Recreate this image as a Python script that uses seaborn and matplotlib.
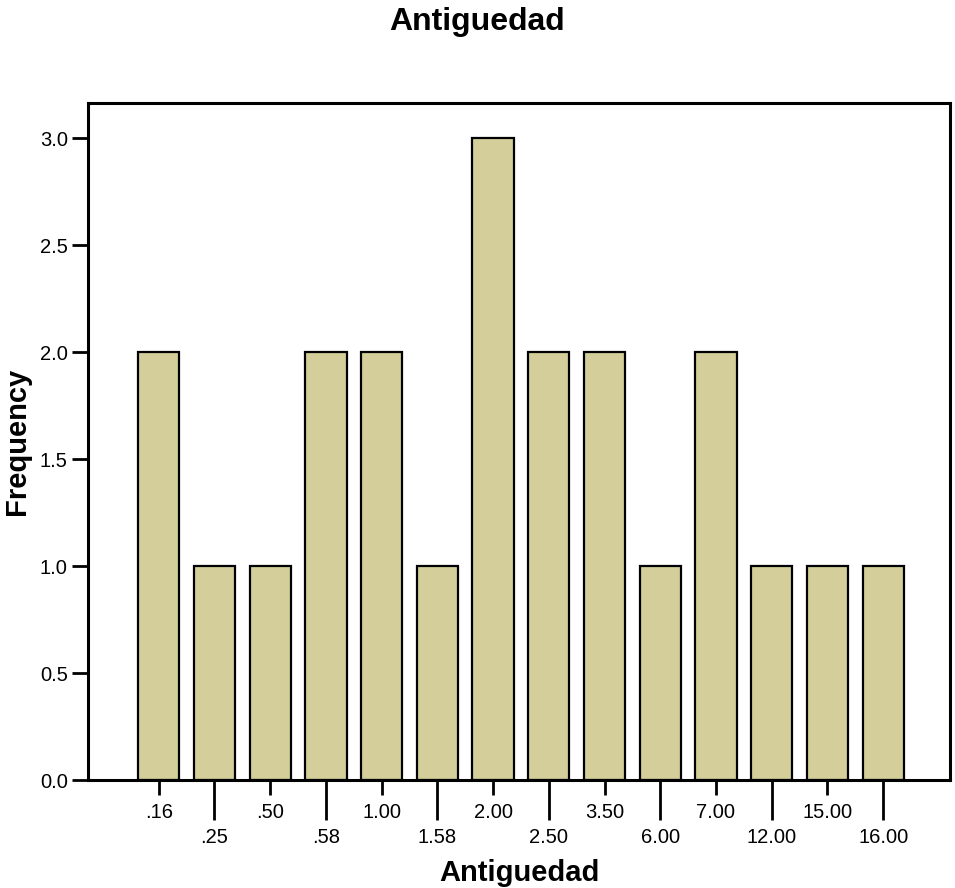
import numpy as np
import pandas as pd
import matplotlib.pyplot as plt
import seaborn as sns
from matplotlib.ticker import FixedLocator, FixedFormatter

# data
categories = [".16", ".25", ".50", ".58", "1.00", "1.58", "2.00",
              "2.50", "3.50", "6.00", "7.00", "12.00", "15.00", "16.00"]
counts = [2, 1, 1, 2, 2, 1, 3, 2, 2, 1, 2, 1, 1, 1]

df = pd.DataFrame({"Antiguedad": categories, "Frequency": counts})

sns.set_style("white")
plt.rcParams["font.family"] = ["Liberation Sans", "DejaVu Sans"]
plt.rcParams["text.color"] = "black"
plt.rcParams["axes.labelcolor"] = "black"
plt.rcParams["xtick.color"] = "black"
plt.rcParams["ytick.color"] = "black"

fig = plt.figure(figsize=(9.55, 8.88), dpi=100)
ax = fig.add_axes([0.0921, 0.1216, 0.9027, 0.7624])

sns.barplot(data=df, x="Antiguedad", y="Frequency", order=categories,
            color="#D4CF9A", saturation=1, width=0.74,
            edgecolor="black", linewidth=1.6, ax=ax)

ax.set_xlim(-1.27, 14.2)
ax.set_ylim(0, 3.164)
yt = np.arange(0, 3.01, 0.5)
ax.set_yticks(yt)
ax.set_yticklabels([f"{v:.1f}" for v in yt], fontsize=14.5)
ax.tick_params(axis="y", direction="out", length=11.5, width=2, left=True, pad=3)

# staggered x labels: even ones short ticks, odd ones long ticks
pos = np.arange(len(categories))
ax.xaxis.set_major_locator(FixedLocator(pos[::2]))
ax.xaxis.set_major_formatter(FixedFormatter(categories[::2]))
ax.xaxis.set_minor_locator(FixedLocator(pos[1::2]))
ax.xaxis.set_minor_formatter(FixedFormatter(categories[1::2]))
ax.tick_params(axis="x", which="major", direction="out", length=10.8, width=2,
               bottom=True, labelsize=14.5, pad=5.5)
ax.tick_params(axis="x", which="minor", direction="out", length=28.8, width=2,
               bottom=True, labelsize=14.5, pad=5.5)

for s in ax.spines.values():
    s.set_visible(True)
    s.set_color("black")
    s.set_linewidth(2.2)

ax.set_xlabel("Antiguedad", fontsize=21, fontweight="bold")
ax.xaxis.set_label_coords(0.5, -0.1167)
ax.set_ylabel("Frequency", fontsize=21, fontweight="bold", labelpad=6.5)
fig.suptitle("Antiguedad", fontsize=23, fontweight="bold", y=0.992)

fig.savefig("out.png", dpi=100)
